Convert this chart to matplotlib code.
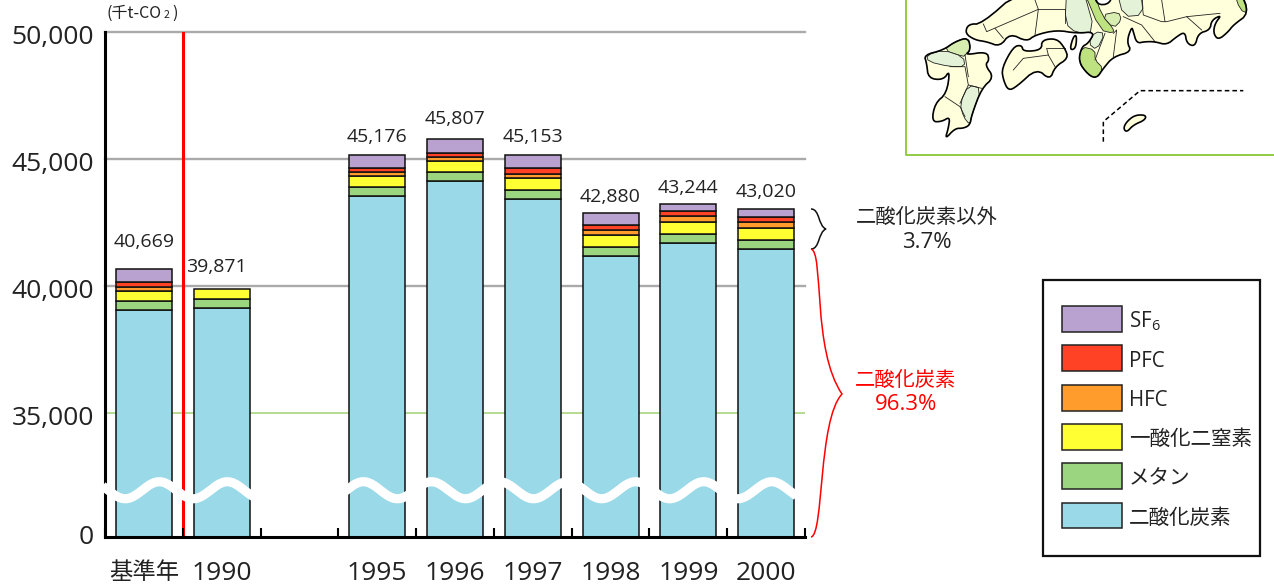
import matplotlib
matplotlib.use("Agg")
import matplotlib.pyplot as plt
import numpy as np
from matplotlib.patches import Patch, PathPatch, Polygon, Rectangle
from matplotlib.path import Path
from matplotlib.transforms import ScaledTranslation

plt.rcParams["font.family"] = ["Open Sans", "Noto Sans CJK JP", "DejaVu Sans"]
plt.rcParams["mathtext.default"] = "regular"

# (thousand t-CO2)
years = ["基準年", "1990", "1995", "1996", "1997", "1998", "1999", "2000"]
positions = [0, 1, 3, 4, 5, 6, 7, 8]
co2 = [39055, 39134, 43543, 44134, 43425, 41169, 41705, 41445]
ch4 = [354, 354, 343, 342, 343, 355, 330, 354]
n2o = [394, 383, 456, 457, 484, 472, 485, 484]
hfc = [158, 0, 134, 134, 169, 221, 224, 237]
pfc = [196, 0, 181, 181, 213, 196, 209, 208]
sf6 = [512, 0, 519, 559, 519, 467, 291, 292]

names = ["二酸化炭素", "メタン", "一酸化二窒素", "HFC", "PFC", "SF$_6$"]
colors = ["#9ad9e8", "#9bd580", "#ffff33", "#ff9c2c", "#ff4125", "#baa2d0"]
yticks = [0, 35000, 40000, 45000, 50000]
label_gap = [27, 22, 18, 20, 18, 16, 16, 17]
label_shift = [0, -4, 0, 0, 0, 0, 0, 0]

BREAK = 35000
K = (124 / 127 * 5000) / BREAK


def squeeze(v):
    v = np.asarray(v, dtype=float)
    return np.where(v < BREAK, v * K, BREAK * K + (v - BREAK))


def unsqueeze(v):
    v = np.asarray(v, dtype=float)
    return np.where(v < BREAK * K, v / K, BREAK + (v - BREAK * K))


fig = plt.figure(figsize=(12.74, 5.85), dpi=100)
ax = fig.add_axes([105 / 1274, 1 - 537 / 585, 700 / 1274, 505 / 585])
ax.set_yscale("function", functions=(squeeze, unsqueeze))
ax.set_xlim(-0.5, 8.5)
ax.set_ylim(0, 50000)

for tick in [40000, 45000, 50000]:
    ax.axhline(tick, color="#aaaaaa", lw=1.7, zorder=1, clip_on=False)
ax.axhline(35000, color="#a9d47e", lw=1.2, zorder=1)
ax.axvline(0.5, color="#ff0000", lw=2.2, zorder=1.5)

bottom = np.zeros(len(years))
series = [co2, ch4, n2o, hfc, pfc, sf6]
for vals, color in zip(series, colors):
    vals = np.array(vals, dtype=float)
    keep = vals > 0
    ax.bar(np.array(positions)[keep], vals[keep], 0.72, bottom=bottom[keep],
           color=color, edgecolor="#111111", lw=1.1, zorder=2)
    bottom += vals

for i, x in enumerate(positions):
    ax.annotate(f"{int(bottom[i]):,}", (x, bottom[i]), xytext=(label_shift[i], label_gap[i] * 0.72),
                textcoords="offset points", ha="center", va="center", fontsize=14, color="#222222")

# white wave marking the broken axis
wave_x = np.linspace(-0.53, 8.39, 500)
wave_y = 13200 - 2400 * np.cos(2 * np.pi * (wave_x - 3.26) / 0.875)
ax.plot(wave_x, wave_y, color="white", lw=6.6, zorder=6, clip_on=False, solid_capstyle="butt")

for side in ["top", "right"]:
    ax.spines[side].set_visible(False)
for side in ["left", "bottom"]:
    ax.spines[side].set_linewidth(2.2)
    ax.spines[side].set_color("black")

ax.set_yticks(yticks)
ax.set_yticklabels([f"{t:,}" for t in yticks], fontsize=19, color="#222222")
ax.tick_params(axis="y", length=0, pad=8)
for t, lab in zip(yticks, ax.get_yticklabels()):
    shift = 2 if t == 0 else -2
    lab.set_transform(lab.get_transform() + ScaledTranslation(0, shift / 72, fig.dpi_scale_trans))
ax.set_xticks(positions)
ax.set_xticklabels(years, fontsize=19, color="#222222")
ax.get_xticklabels()[0].set_fontsize(16.8)
ax.tick_params(axis="x", which="major", length=0, pad=17)
ax.set_xticks(np.arange(-0.5, 9), minor=True)
ax.tick_params(axis="x", which="minor", direction="in", length=6.2, width=1.5, color="black")

# overlay in pixel coordinates for the notes, legend box and map
ov = fig.add_axes([0, 0, 1, 1], zorder=5)
ov.set_xlim(0, 1274)
ov.set_ylim(585, 0)
ov.axis("off")
ov.patch.set_alpha(0)

unit_font = ["Noto Sans CJK JP", "DejaVu Sans"]
ov.text(107, 13, "(千t-CO", fontsize=11.5, ha="left", va="center", color="#222222", family=unit_font)
ov.text(164, 15, "2", fontsize=7.5, ha="left", va="center", color="#222222", family=unit_font)
ov.text(172, 13, ")", fontsize=11.5, ha="left", va="center", color="#222222", family=unit_font)

brace_codes = [Path.MOVETO, Path.CURVE4, Path.CURVE4, Path.CURVE4, Path.CURVE4, Path.CURVE4, Path.CURVE4]
black_brace = [(811, 209), (820, 209), (818, 226), (826, 229), (818, 232), (820, 249), (811, 249)]
red_brace = [(811, 249), (824, 252), (812, 350), (842, 394), (818, 420), (824, 535), (811, 537)]
ov.add_patch(PathPatch(Path(black_brace, brace_codes), fc="none", ec="#111111", lw=1.1))
ov.add_patch(PathPatch(Path(red_brace, brace_codes), fc="none", ec="#ff0000", lw=1.1))

ov.text(927, 218, "二酸化炭素以外", fontsize=14.6, ha="center", va="center", color="#222222")
ov.text(927, 242, "3.7%", fontsize=16, ha="center", va="center", color="#222222")
ov.text(906, 381, "二酸化炭素", fontsize=14.6, ha="center", va="center", color="#ff0000")
ov.text(906, 405, "96.3%", fontsize=16, ha="center", va="center", color="#ff0000")

ov.add_patch(Rectangle((1043, 280), 217, 276, fc="white", ec="#111111", lw=1.6))
handles = [Patch(fc=c, ec="#222222", lw=1.1, label=n) for c, n in zip(colors, names)]
leg = ov.legend(handles=handles[::-1], loc="upper left", bbox_to_anchor=(1062 / 1274, 1 - 306 / 585),
                frameon=False, fontsize=14.8, handlelength=2.91, handleheight=1.565,
                handletextpad=0.34, labelspacing=0.65, borderpad=0, borderaxespad=0, labelcolor="#222222")
for text in leg.get_texts():
    text.set_position((0, -1.5))


# map outlines, traced in the 3x crop coordinates of the map corner
def mp(points, smooth=2):
    pts = np.array(points, dtype=float)
    for _ in range(smooth):
        nxt = np.roll(pts, -1, axis=0)
        pts = np.column_stack([0.75 * pts + 0.25 * nxt, 0.25 * pts + 0.75 * nxt]).reshape(-1, 2)
    return np.column_stack([900 + pts[:, 0] / 3, pts[:, 1] / 3])


PALE = "#ffffdc"
MID = "#e4f2d8"
LIGHT = "#d8eeb0"
STRONG = "#bde27f"

kyushu = [(72, 165), (130, 150), (165, 125), (205, 112), (212, 150), (195, 165), (260, 155), (268, 180),
          (255, 195), (282, 232), (245, 265), (215, 345), (210, 375), (190, 385), (165, 385), (135, 418),
          (145, 385), (150, 350), (125, 365), (95, 365), (105, 310), (140, 280), (150, 210), (130, 240),
          (85, 235), (80, 190)]
shikoku = [(305, 205), (340, 140), (365, 135), (370, 155), (425, 150), (425, 120), (470, 115), (495, 145),
           (505, 175), (465, 200), (450, 240), (410, 205), (350, 260), (325, 272), (310, 240)]
awaji = [(510, 145), (520, 110), (530, 105), (528, 140), (518, 150)]
island = [(670, 385), (680, 365), (705, 345), (738, 345), (735, 360), (700, 375), (680, 397)]
honshu = [(195, 100), (205, 72), (245, 72), (360, -30), (580, -30), (590, 15), (630, 12), (640, -30),
          (1020, -30), (1048, 40), (1000, 75), (985, 95), (955, 120), (940, 100), (945, 70), (965, 45),
          (935, 60), (930, 90), (895, 100), (885, 140), (860, 130), (855, 95), (830, 110), (800, 135),
          (765, 125), (735, 125), (710, 130), (700, 95), (695, 80), (680, 125), (695, 155), (640, 170),
          (610, 205), (590, 235), (565, 225), (535, 185), (545, 140), (565, 130), (585, 95), (530, 100),
          (470, 90), (405, 105), (380, 125), (330, 100), (300, 140), (260, 125), (225, 120)]
regions = [
    ([(130, 150), (165, 125), (205, 112), (212, 150), (195, 165), (190, 170)], LIGHT),
    ([(80, 165), (130, 150), (190, 170), (195, 200), (150, 200), (85, 185)], MID),
    ([(205, 255), (245, 265), (215, 345), (210, 375), (190, 350), (180, 310)], MID),
    ([(500, -30), (550, -30), (585, 95), (530, 100), (495, 70)], MID),
    ([(550, -30), (580, -30), (605, 45), (640, 85), (640, 100), (600, 90)], STRONG),
    ([(605, 45), (655, 35), (665, 60), (640, 85)], LIGHT),
    ([(650, -30), (725, -30), (730, 45), (670, 50)], MID),
    ([(585, 95), (615, 100), (590, 150), (565, 130)], MID),
    ([(1000, -30), (1020, -30), (1045, 40), (1020, 30)], STRONG),
    ([(545, 140), (585, 150), (585, 180), (610, 205), (590, 235), (565, 225), (535, 185)], STRONG),
]
borders = [
    [(250, 72), (260, 95), (415, 28), (405, 105)], [(415, 28), (495, 28), (495, 70)], [(405, 0), (415, 28)],
    [(285, 85), (310, 115)], [(640, 100), (650, 90), (640, 170)], [(615, 100), (585, 180)],
    [(670, 50), (725, 75), (765, 125)], [(725, 0), (730, 45), (785, 65), (800, 65), (860, 50), (905, 90)],
    [(785, 0), (795, 65)], [(860, 50), (960, 40)], [(340, 210), (370, 175), (445, 165), (465, 200)],
    [(440, 145), (495, 145)], [(445, 165), (440, 145)], [(150, 200), (195, 200), (205, 255), (245, 265)],
    [(135, 290), (180, 320), (195, 350)], [(205, 255), (180, 310)], [(195, 165), (205, 230)],
]

for land in [kyushu, shikoku, awaji, island, honshu]:
    ov.add_patch(Polygon(mp(land), fc=PALE, ec="none", zorder=2))
for region, color in regions:
    ov.add_patch(Polygon(mp(region, 1), fc=color, ec="#222222", lw=0.6, zorder=3))
for line in borders:
    xy = mp(line, 0)
    ov.plot(xy[:, 0], xy[:, 1], color="#222222", lw=0.6, zorder=4)
for land in [kyushu, shikoku, awaji, island, honshu]:
    ov.add_patch(Polygon(mp(land), fc="none", ec="black", lw=1.2, zorder=5, joinstyle="round"))
xy = mp([(610, 425), (610, 365), (720, 272), (1030, 272)], 0)
ov.plot(xy[:, 0], xy[:, 1], color="black", lw=1.1, ls=(0, (3, 2)), zorder=5)
ov.plot([906, 906, 1274], [0, 154.5, 154.5], color="#93cc44", lw=1.4, zorder=6)

fig.savefig("out.png", dpi=100)
